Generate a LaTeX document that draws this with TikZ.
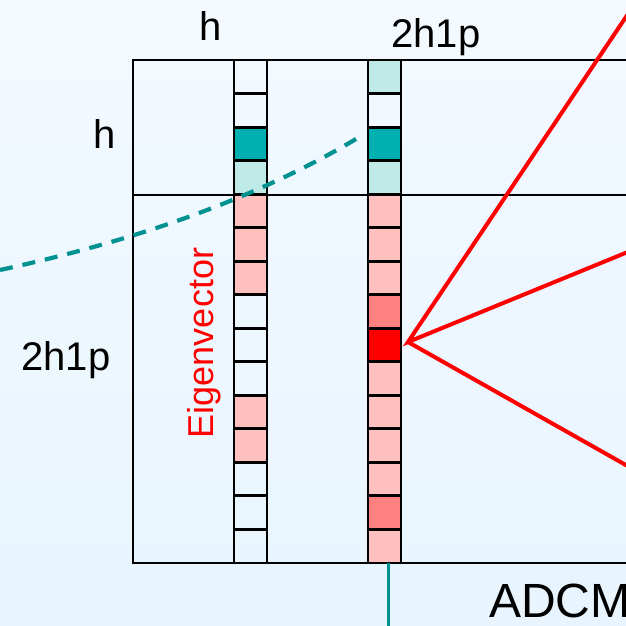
\documentclass[tikz,border=0pt]{standalone}
\usepackage{fontspec}
\setmainfont{Liberation Sans}
\definecolor{bgtop}{RGB}{243,249,255}
\definecolor{bgbot}{RGB}{232,245,254}
\definecolor{tealD}{RGB}{0,176,176}
\definecolor{tealL}{RGB}{192,234,232}
\definecolor{pinkL}{RGB}{255,192,192}
\definecolor{pinkM}{RGB}{255,128,128}
\definecolor{redF}{RGB}{255,0,0}
\definecolor{tealLine}{RGB}{0,145,145}
\begin{document}
\begin{tikzpicture}[x=1pt,y=-1pt,
  cell/.style={draw=black,line width=2.9pt,minimum width=33pt,minimum height=33.53pt,inner sep=0pt,outer sep=0pt},
  lbl/.style={font=\fontsize{40}{48}\selectfont,inner sep=0pt},
  redline/.style={draw=redF,line width=4pt},
  tealdash/.style={draw=tealLine,line width=4.2pt,dash pattern=on 13pt off 10pt}]
\useasboundingbox (0,0) rectangle (626,625);
\clip (0,0) rectangle (626,625);
\shade[top color=bgtop,bottom color=bgbot] (0,0) rectangle (626,625);
% outer frame
\draw[line width=2.2pt] (640,60) -- (133,60) -- (133,563) -- (640,563);
\draw[line width=1.5pt] (133,195) -- (640,195);
% column 1
\foreach \i/\c in {1/none,2/none,3/tealD,4/tealL,5/pinkL,6/pinkL,7/pinkL,8/none,9/none,10/none,11/pinkL,12/pinkL,13/none,14/none,15/none}{
  \node[cell,fill=\c] (a\i) at (250.5,{60+33.53*(\i-0.5)}) {};
}
% column 2
\foreach \i/\c in {1/tealL,2/none,3/tealD,4/tealL,5/pinkL,6/pinkL,7/pinkL,8/pinkM,9/redF,10/pinkL,11/pinkL,12/pinkL,13/pinkL,14/pinkM,15/pinkL}{
  \node[cell,fill=\c] (b\i) at (384.5,{60+33.53*(\i-0.5)}) {};
}
% labels
\node[lbl,anchor=base] (th) at (211,40) {h};
\node[lbl,anchor=base] (t2) at (436,47) {2h1p};
\node[lbl,anchor=base] (lh) at (105,148) {h};
\node[lbl,anchor=base] (l2) at (66,370) {2h1p};
\node[font=\fontsize{36}{40}\selectfont,text=redF,rotate=90,anchor=base,inner sep=0pt] (ev) at (213,343) {Eigenvector};
\node[font=\fontsize{48}{56}\selectfont,anchor=base west,inner sep=0pt] (adcm) at (489,617) {ADCM};
% red lines
\coordinate (apex) at (408,342);
\coordinate (r1) at (640,-4);
\coordinate (r2) at (640,247);
\coordinate (r3) at (640,473);
\draw[redline,line join=miter] (r1) -- (apex) -- (r2);
\draw[redline] (apex) -- (r3);
% teal dashed curve
\coordinate (d0) at (0,270);
\coordinate (d1) at (356,139);
\draw[tealdash] (d0) .. controls (110,246) and (240,208) .. (d1);
% teal vertical line
\coordinate (vb) at (388,630);
\draw[draw=tealLine,line width=3pt] (388,563) -- (vb);
\end{tikzpicture}
\end{document}
